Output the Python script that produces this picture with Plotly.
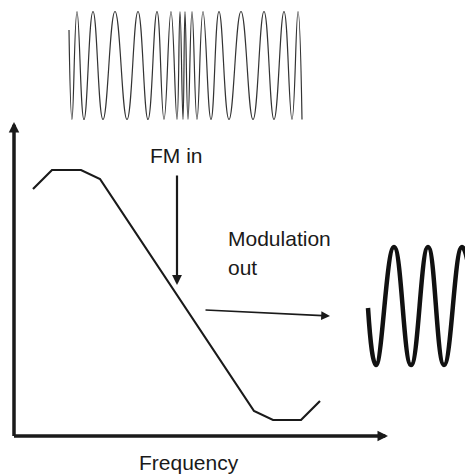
import plotly.graph_objects as go

# Main response curve (frequency vs. amplitude, axis units)
resp_freq = [19, 38, 67, 86, 240, 259, 287, 306]
resp_amp = [247, 266, 266, 257, 25, 16, 16, 35]

# FM input waveform: successive extremes (peaks/troughs)
fm_x = [55, 58, 63, 70, 79, 89, 101, 113, 124, 134, 143, 150, 157, 163, 166, 169,
        171, 174, 178, 183, 189, 197, 205, 215, 227, 239, 250, 260, 270, 278, 284, 288]
fm_y = [406, 316.5, 424.5, 316.5, 424.5, 316.5, 424.5, 316.5, 424.5, 316.5, 424.5,
        316.5, 424.5, 316.5, 424.5, 316.5, 424.5, 316.5, 424.5, 316.5, 424.5, 316.5,
        424.5, 316.5, 424.5, 316.5, 424.5, 316.5, 424.5, 316.5, 424.5, 316.5]

# Modulation output waveform: successive extremes
out_x = [354, 362, 380, 397, 414, 430, 448, 465]
out_y = [128, 71, 189, 71, 189, 71, 189, 71]

# Text labels
lbl_fm_in = "FM in"
lbl_mod = "Modulation"
lbl_out = "out"
lbl_freq = "Frequency"

INK = "#1a1a1a"
FONT = dict(family="Liberation Sans, Arial, sans-serif", size=21, color=INK)

fig = go.Figure()
fig.add_trace(go.Scatter(x=resp_freq, y=resp_amp, mode="lines",
                         line=dict(color=INK, width=2.2), hoverinfo="skip"))
fig.add_trace(go.Scatter(x=fm_x, y=fm_y, mode="lines",
                         line=dict(color="#333333", width=1.2, shape="spline", smoothing=1.3),
                         hoverinfo="skip"))
fig.add_trace(go.Scatter(x=out_x, y=out_y, mode="lines",
                         line=dict(color="#111111", width=4.5, shape="spline", smoothing=1.3),
                         hoverinfo="skip"))

def arrow(x0, y0, x1, y1, width, size, head=2):
    fig.add_annotation(x=x1, y=y1, ax=x0, ay=y0, xref="x", yref="y", axref="x", ayref="y",
                       text="", showarrow=True, arrowhead=head, arrowwidth=width,
                       arrowsize=size, arrowcolor=INK, standoff=0, startstandoff=0)

# axes arrows
arrow(0, -1.5, 0, 314, 3.5, 0.6)
arrow(-1.5, 0, 374, 0, 3.5, 0.6)
# FM in arrow
arrow(163, 262, 163, 151, 2.2, 0.9)
# Modulation out arrow
arrow(190, 126, 316, 120, 1.6, 1.1)

fig.add_annotation(x=162.5, y=281, xref="x", yref="y", text=lbl_fm_in, showarrow=False,
                   xanchor="center", yanchor="middle", font=FONT)
fig.add_annotation(x=212, y=198, xref="x", yref="y", text=lbl_mod, showarrow=False,
                   xanchor="left", yanchor="middle", font=FONT)
fig.add_annotation(x=212, y=168.5, xref="x", yref="y", text=lbl_out, showarrow=False,
                   xanchor="left", yanchor="middle", font=FONT)
fig.add_annotation(x=175, y=-26.5, xref="x", yref="y", text=lbl_freq, showarrow=False,
                   xanchor="center", yanchor="middle", font=FONT)

fig.update_layout(width=465, height=474, margin=dict(l=0, r=0, t=0, b=0),
                  paper_bgcolor="white", plot_bgcolor="white", showlegend=False,
                  xaxis=dict(range=[-14, 451], visible=False, fixedrange=True),
                  yaxis=dict(range=[-38, 436], visible=False, fixedrange=True))

fig.write_html("out.html", config={"displayModeBar": False},
               post_script="document.body.style.margin='0';document.body.style.overflow='hidden';")
